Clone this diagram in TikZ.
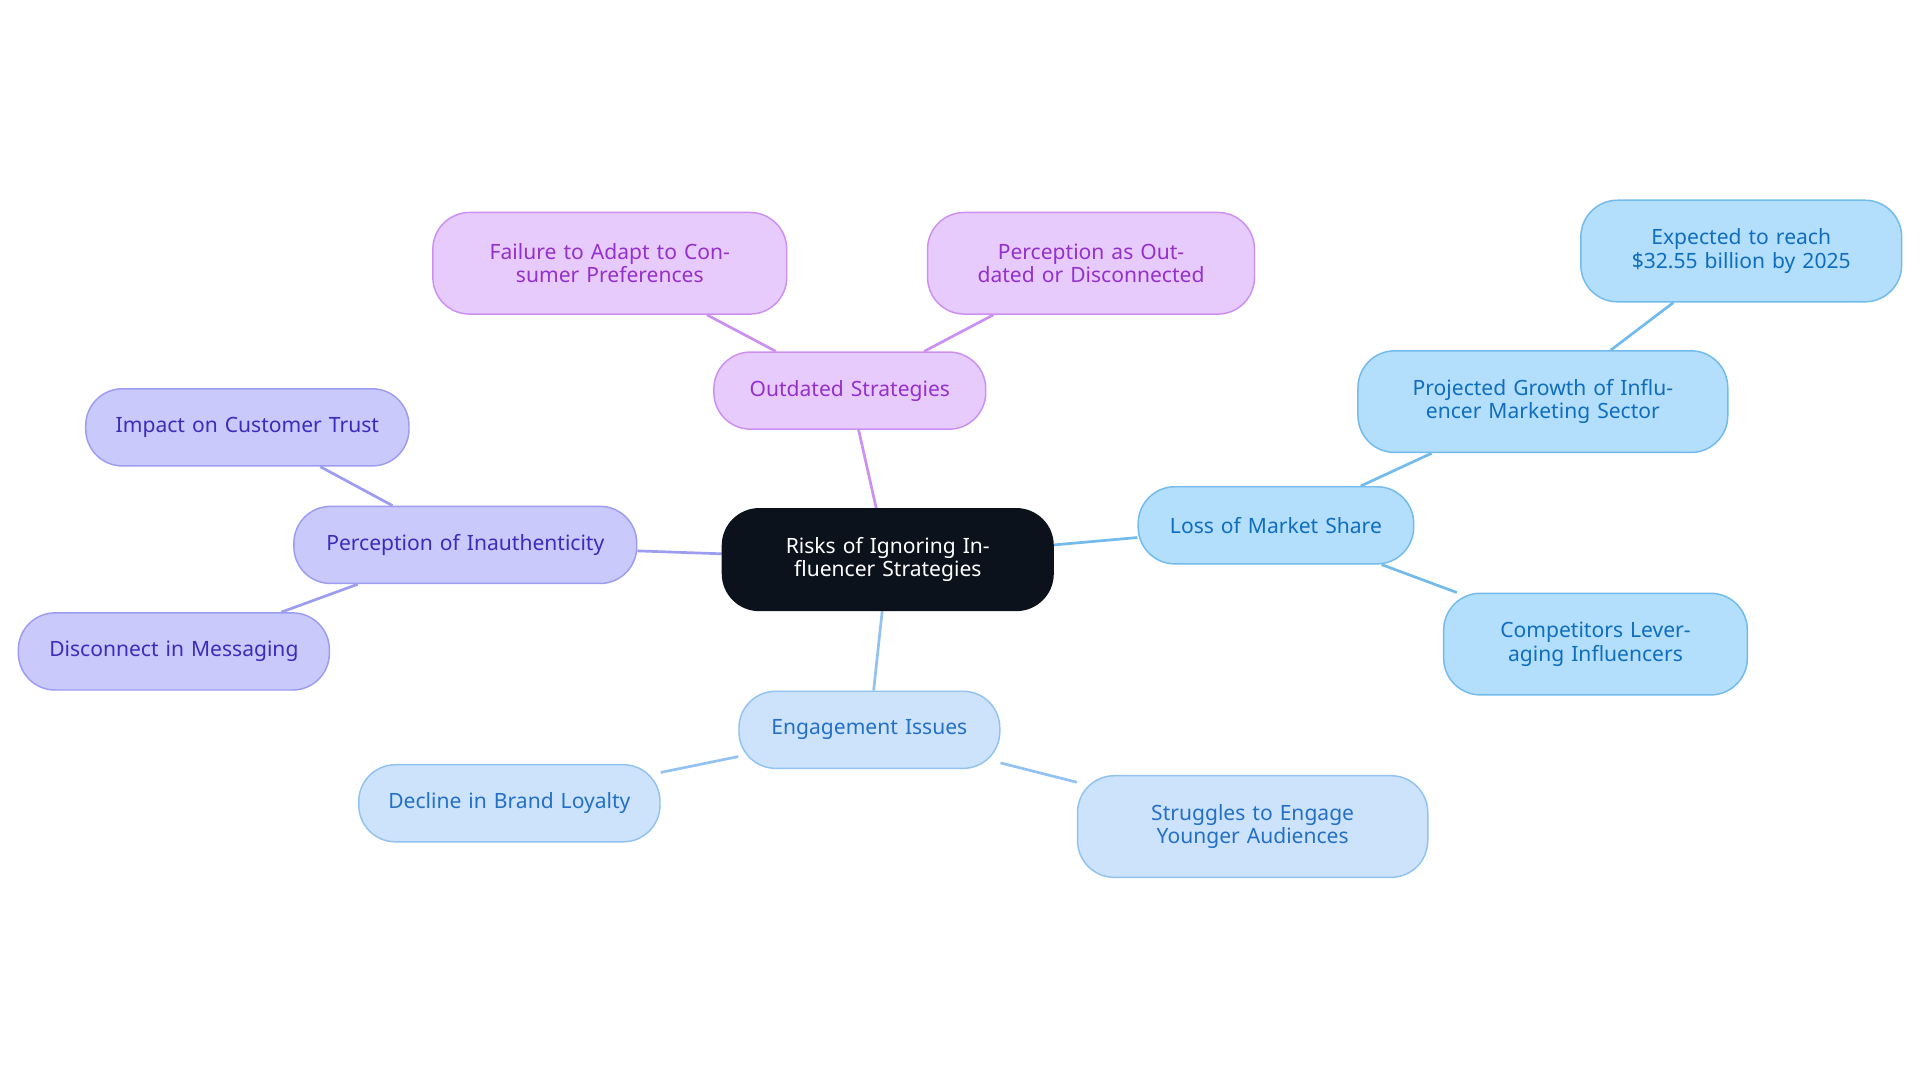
\documentclass[tikz,border=0pt]{standalone}
\usepackage{fontspec}
\setmainfont{Noto Sans}
\usetikzlibrary{backgrounds}
\definecolor{ctr}{HTML}{0B121B}
\definecolor{pf}{HTML}{E8CBFD}\definecolor{pd}{HTML}{CB90F2}\definecolor{pt}{HTML}{9430CC}
\definecolor{vf}{HTML}{C9C9FC}\definecolor{vd}{HTML}{9C9CF0}\definecolor{vt}{HTML}{3A2DBA}
\definecolor{ef}{HTML}{CCE3FB}\definecolor{ed}{HTML}{92C2F0}\definecolor{et}{HTML}{2470C6}
\definecolor{lf}{HTML}{B3DEFC}\definecolor{ld}{HTML}{72BBEC}\definecolor{lt}{HTML}{0F6EBE}
\tikzset{
 box/.style={rounded corners=15pt,draw,line width=0.6pt,align=center,font=\fontsize{8.6}{9.6}\selectfont,inner sep=0pt},
 sz/.style 2 args={minimum width=#1*0.5pt,minimum height=#2*0.5pt,text width=#1*0.5pt-20pt},
 pur/.style={box,fill=pf,draw=pd,text=pt},
 vio/.style={box,fill=vf,draw=vd,text=vt},
 eng/.style={box,fill=ef,draw=ed,text=et},
 los/.style={box,fill=lf,draw=ld,text=lt},
 ln/.style={line width=1.1pt}
}
\begin{document}
\begin{tikzpicture}[x=0.5pt,y=-0.5pt]
\useasboundingbox (0,0) rectangle (1568,884);
\node[box,fill=ctr,draw=ctr,text=white,sz={270}{83}] (c) at (725,457) {Risks of Ignoring Influencer Strategies};
\node[pur,sz={222}{63}] (o) at (694,319) {Outdated Strategies};
\node[pur,sz={289}{83}] (o1) at (498,215) {Failure to Adapt to Consumer Preferences};
\node[pur,sz={267}{83}] (o2) at (891,215) {Perception as Outdated or Disconnected};
\node[vio,sz={280}{63}] (p) at (380,445) {Perception of Inauthenticity};
\node[vio,sz={264}{63}] (p1) at (202,349) {Impact on Customer Trust};
\node[vio,sz={254}{63}] (p2) at (142,532) {Disconnect in Messaging};
\node[eng,sz={213}{63}] (e) at (710,596) {Engagement Issues};
\node[eng,sz={246}{63}] (e1) at (416,656) {Decline in Brand Loyalty};
\node[eng,sz={286}{83}] (e2) at (1023,675) {Struggles to Engage Younger Audiences};
\node[los,sz={225}{63}] (l) at (1042,429) {Loss of Market Share};
\node[los,sz={302}{83}] (l1) at (1260,328) {Projected Growth of Influencer Marketing Sector};
\node[los,sz={262}{83}] (l2) at (1422,205) {Expected to reach \$32.55 billion by 2025};
\node[los,sz={248}{83}] (l3) at (1303,526) {Competitors Leveraging Influencers};
\begin{scope}[on background layer]
\draw[ln,pd] (c)--(o) (o)--(o1) (o)--(o2);
\draw[ln,vd] (c)--(p) (p)--(p1) (p)--(p2);
\draw[ln,ed] (c)--(e) (e)--(e1) (e)--(e2);
\draw[ln,ld] (c)--(l) (l)--(l1) (l1)--(l2) (l)--(l3);
\end{scope}
\end{tikzpicture}
\end{document}
